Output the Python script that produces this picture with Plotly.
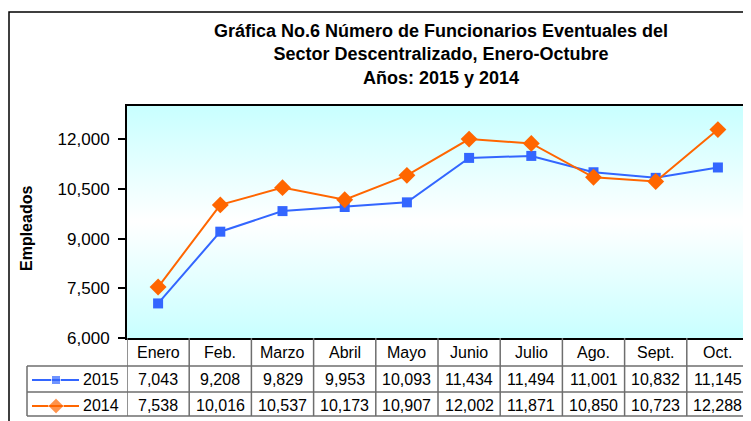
import plotly.graph_objects as go

# ── Data ─────────────────────────────────────────────────────
meses = ["Enero", "Feb.", "Marzo", "Abril", "Mayo",
         "Junio", "Julio", "Ago.", "Sept.", "Oct."]
empleados_2015 = [7043, 9208, 9829, 9953, 10093, 11434, 11494, 11001, 10832, 11145]
empleados_2014 = [7538, 10016, 10537, 10173, 10907, 12002, 11871, 10850, 10723, 12288]
y_ticks = [6000, 7500, 9000, 10500, 12000]

# ── Style ────────────────────────────────────────────────────
# the page body has an 8px margin, so the figure is 8px smaller
# and every pixel position below is given in window pixels
OFF = 8
W, H = 751 - OFF, 421 - OFF
BLUE = "#3366FF"
ORANGE = "#FF6600"
GRID = "#6e6e6e"
FONT = "Arial, Liberation Sans, sans-serif"


def px(x):
    return (x - OFF) / W


def py(y):
    return 1 - (y - OFF) / H


# window-pixel frame of the plot area and the data table below it
PL, PR, PT, PB = 127, 749, 106, 338
ROW1, ROW2, ROW3 = 366, 392, 416
KEY_L = 27

n = len(meses)
idx = list(range(n))

fig = go.Figure()

# gradient background of the plot area
fig.add_trace(go.Scatter(
    x=[-0.5, n - 0.5, n - 0.5, -0.5, -0.5],
    y=[6000, 6000, 13000, 13000, 6000],
    mode="lines", line=dict(width=0), fill="toself",
    fillgradient=dict(type="vertical",
                      colorscale=[[0, "#c8ffff"], [0.5, "#ffffff"], [1, "#c8ffff"]]),
    hoverinfo="skip", showlegend=False,
))

series = [
    ("2015", empleados_2015, BLUE, "square", 10, ROW1),
    ("2014", empleados_2014, ORANGE, "diamond", 13, ROW2),
]

for name, vals, color, symbol, size, row_top in series:
    fig.add_trace(go.Scatter(
        x=idx, y=vals, name=name, mode="lines+markers",
        line=dict(color=color, width=2),
        marker=dict(color=color, symbol=symbol, size=size),
        showlegend=False,
    ))
    # legend key in the table's left cell
    yc = row_top + 13
    fig.add_trace(go.Scatter(
        x=[32, 56, 79], y=[yc + 1, yc + 1, yc + 1], mode="lines+markers",
        line=dict(color=color, width=2),
        marker=dict(color=color, symbol=symbol, size=[0, size - 1, 0]),
        xaxis="x2", yaxis="y2", hoverinfo="skip", showlegend=False,
    ))
    fig.add_annotation(
        text=name, xref="paper", yref="paper",
        x=px(121), y=py(yc), xanchor="right", yanchor="middle",
        showarrow=False, font=dict(size=16, color="black", family=FONT),
    )
    # values row
    for i, v in enumerate(vals):
        fig.add_annotation(
            text=f"{v:,}", xref="x", yref="paper",
            x=i, y=py(yc), xanchor="center", yanchor="middle",
            showarrow=False, font=dict(size=16, color="black", family=FONT),
        )

# category row
for i, m in enumerate(meses):
    fig.add_annotation(
        text=m, xref="x", yref="paper",
        x=i, y=py(352), xanchor="center", yanchor="middle",
        showarrow=False, font=dict(size=16, color="black", family=FONT),
    )

# table grid
shapes = []
for i in range(n + 1):
    shapes.append(dict(type="line", xref="x", yref="paper",
                       x0=i - 0.5, x1=i - 0.5, y0=py(PB), y1=py(ROW3),
                       line=dict(color=GRID, width=1.5)))
for yy in (ROW1, ROW2, ROW3):
    shapes.append(dict(type="line", xref="paper", yref="paper",
                       x0=px(KEY_L), x1=px(PR), y0=py(yy), y1=py(yy),
                       line=dict(color=GRID, width=1.5)))
shapes.append(dict(type="line", xref="paper", yref="paper",
                   x0=px(KEY_L), x1=px(KEY_L), y0=py(ROW1), y1=py(ROW3),
                   line=dict(color=GRID, width=1.5)))
# outer chart frame
shapes.append(dict(type="rect", xref="paper", yref="paper",
                   x0=px(9), x1=px(800), y0=py(460), y1=py(12),
                   line=dict(color="black", width=1.5)))

fig.add_annotation(
    text="<b>Empleados</b>", xref="paper", yref="paper",
    x=px(26), y=py(229), textangle=-90,
    xanchor="center", yanchor="middle", showarrow=False,
    font=dict(size=16, color="black", family=FONT),
)

# chart title
fig.add_annotation(
    text="<b>Gráfica No.6 Número de Funcionarios Eventuales del<br>"
         "Sector Descentralizado, Enero-Octubre<br>Años: 2015 y 2014</b>",
    xref="paper", yref="paper", x=px(441), y=py(55),
    xanchor="center", yanchor="middle", showarrow=False,
    font=dict(size=18, color="black", family=FONT),
)

fig.update_layout(
    width=W, height=H,
    margin=dict(l=0, r=0, t=0, b=0),
    paper_bgcolor="white", plot_bgcolor="white",
    xaxis=dict(
        domain=[px(PL), px(PR)], range=[-0.5, n - 0.5],
        showticklabels=False, showgrid=False, zeroline=False,
        showline=True, mirror=True, linecolor="black", linewidth=2,
        fixedrange=True,
    ),
    yaxis=dict(
        domain=[py(PB), py(PT)], range=[6000, 13000],
        tickvals=y_ticks, tickformat=",", showgrid=False, zeroline=False,
        ticks="outside", ticklen=7, tickwidth=1.5, tickcolor="black",
        ticklabelstandoff=5,
        showline=True, mirror=True, linecolor="black", linewidth=2,
        tickfont=dict(size=17, color="black", family=FONT),
        automargin=False,
    ),
    xaxis2=dict(domain=[px(KEY_L), px(PL)], range=[KEY_L, PL], visible=False,
                anchor="y2"),
    yaxis2=dict(domain=[py(ROW3), py(ROW1)], range=[ROW3, ROW1], visible=False,
                anchor="x2"),
    shapes=shapes,
)

fig.write_html("out.html")
